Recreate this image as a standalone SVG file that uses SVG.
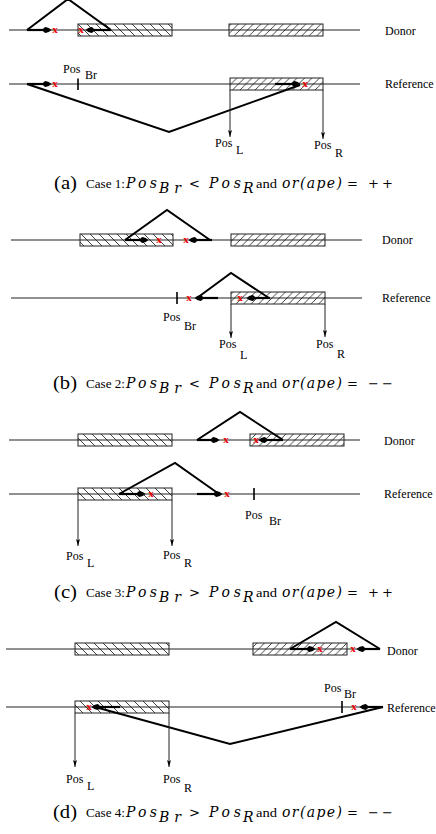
<svg xmlns="http://www.w3.org/2000/svg" width="436" height="834" viewBox="0 0 436 834">
<style>
.bg{fill:#fff}
.seq{stroke:#222;stroke-width:1.1;fill:none}
.boxB{fill:url(#hB);stroke:#222;stroke-width:1}
.boxF{fill:url(#hF);stroke:#222;stroke-width:1}
.read{stroke:#000;stroke-width:2.2;fill:none;marker-end:url(#dot)}
.arc{stroke:#000;stroke-width:2;fill:none;stroke-linejoin:miter}
.tick{stroke:#000;stroke-width:1.6}
.pos{stroke:#222;stroke-width:1;fill:none;marker-end:url(#arr)}
text{font-family:"Liberation Serif","Times New Roman","DejaVu Serif",serif}
.lab{font-size:12px;fill:#000}
.rx{font-size:11px;font-weight:bold;fill:#e00;text-anchor:middle}
.cap{fill:#000}
.big{font-size:18px}
.sm{font-size:12px}
.mi{font-family:"DejaVu Serif","Liberation Serif",serif;font-size:14px;font-style:italic}
.op{font-family:"DejaVu Serif","Liberation Serif",serif;font-size:13px}
</style>
<defs>
<pattern id="hB" patternUnits="userSpaceOnUse" width="9" height="9">
<path d="M0,0 L9,9 M-3,6 L3,12 M6,-3 L12,3" stroke="#111" stroke-width="0.8"/>
</pattern>
<pattern id="hF" patternUnits="userSpaceOnUse" width="7.5" height="7.5">
<path d="M0,7.5 L7.5,0 M-3,3 L3,-3 M4.5,10.5 L10.5,4.5" stroke="#111" stroke-width="0.8"/>
</pattern>
<marker id="dot" markerUnits="userSpaceOnUse" orient="auto" markerWidth="12" markerHeight="10" viewBox="-6 -5 12 10" refX="0" refY="0" overflow="visible">
<path d="M-2.5,-2.9 Q1,-2.6 3.5,0 Q1,2.6 -2.5,2.9 Q-5,2.4 -5,0 Q-5,-2.4 -2.5,-2.9Z" fill="#000"/>
</marker>
<marker id="arr" markerUnits="userSpaceOnUse" orient="auto" markerWidth="10" markerHeight="8" viewBox="-8 -4 10 8" refX="0" refY="0" overflow="visible">
<path d="M-7,-2 L0,0 L-7,2 L-5.5,0Z" fill="#000"/>
</marker>
</defs>
<rect class="bg" x="0" y="0" width="436" height="834"/>

<!-- ============ Panel (a) ============ -->
<g id="a-donor">
<line class="seq" x1="9" y1="30" x2="360" y2="30"/>
<rect class="boxB" x="78" y="24" width="94" height="12"/>
<rect class="boxF" x="229" y="24" width="94" height="12"/>
<text class="lab" x="385" y="35">Donor</text>
</g>
<g id="a-reference">
<line class="seq" x1="9" y1="84" x2="360" y2="84"/>
<rect class="boxF" x="230" y="78" width="93" height="12"/>
<line class="tick" x1="78" y1="78.5" x2="78" y2="90"/>
<text class="lab" x="63" y="73">Pos</text><text class="lab" x="85" y="79">Br</text>
<text class="lab" x="385" y="88">Reference</text>
</g>
<g id="a-connectors">
<polyline class="arc" points="27,30 68,-1 111,30"/>
<line class="read" x1="27" y1="30" x2="48" y2="30"/>
<line class="read" x1="111" y1="30" x2="89" y2="30"/>
<text class="rx" x="55" y="33">x</text>
<text class="rx" x="81" y="33">x</text>
<polyline class="arc" points="27,84 169,132 300,85"/>
<line class="read" x1="27" y1="84" x2="48" y2="84"/>
<text class="rx" x="55" y="87">x</text>
<line class="read" x1="275" y1="84" x2="297" y2="84"/>
<text class="rx" x="305" y="87">x</text>
<line class="pos" x1="230" y1="90" x2="230" y2="137"/>
<line class="pos" x1="323" y1="90" x2="323" y2="139"/>
</g>
<g id="a-poslabels">
<text class="lab" x="215" y="147">Pos</text><text class="lab" x="236" y="154">L</text>
<text class="lab" x="314" y="149">Pos</text><text class="lab" x="335" y="157">R</text>
</g>
<g id="a-caption" class="cap">
<text class="big" x="54" y="189" textLength="23" lengthAdjust="spacingAndGlyphs">(a)</text>
<text class="sm" x="86" y="188" textLength="39" lengthAdjust="spacingAndGlyphs">Case 1:</text>
<text class="mi" x="126" y="188" textLength="31" lengthAdjust="spacing">Pos</text>
<text class="mi" x="159" y="193" textLength="22" lengthAdjust="spacing">Br</text>
<text class="op" x="189" y="188">&lt;</text>
<text class="mi" x="209" y="188" textLength="32" lengthAdjust="spacing">Pos</text>
<text class="mi" x="243" y="193">R</text>
<text class="sm" x="256" y="188" textLength="21" lengthAdjust="spacingAndGlyphs">and</text>
<text class="mi" x="282" y="188" textLength="60" lengthAdjust="spacing">or(ape)</text>
<text class="op" x="347" y="188">=</text>
<text class="op" x="368" y="188" textLength="25" lengthAdjust="spacing">++</text>
</g>

<!-- ============ Panel (b) ============ -->
<g id="b-donor">
<line class="seq" x1="11" y1="240" x2="362" y2="240"/>
<rect class="boxB" x="80" y="234" width="93" height="12"/>
<rect class="boxF" x="231" y="234" width="94" height="12"/>
<text class="lab" x="382" y="244">Donor</text>
</g>
<g id="b-reference">
<line class="seq" x1="11" y1="298" x2="362" y2="298"/>
<rect class="boxF" x="231" y="292" width="94" height="12"/>
<line class="tick" x1="177" y1="292" x2="177" y2="304"/>
<text class="lab" x="163" y="321">Pos</text><text class="lab" x="184" y="330">Br</text>
<text class="lab" x="382" y="302">Reference</text>
</g>
<g id="b-connectors">
<polyline class="arc" points="125,240 167,210 210,240"/>
<line class="read" x1="125" y1="240" x2="145" y2="240"/>
<text class="rx" x="159" y="243">x</text>
<line class="read" x1="212" y1="240" x2="192" y2="240"/>
<text class="rx" x="186" y="243">x</text>
<polyline class="arc" points="197,298 231,273 269,298"/>
<line class="read" x1="218" y1="298" x2="198" y2="298"/>
<text class="rx" x="189" y="301">x</text>
<line class="read" x1="270" y1="298" x2="250" y2="298"/>
<text class="rx" x="240" y="301">x</text>
<line class="pos" x1="231" y1="304" x2="231" y2="338"/>
<line class="pos" x1="325" y1="304" x2="325" y2="337"/>
</g>
<g id="b-poslabels">
<text class="lab" x="219" y="348">Pos</text><text class="lab" x="240" y="359">L</text>
<text class="lab" x="316" y="348">Pos</text><text class="lab" x="337" y="358">R</text>
</g>
<g id="b-caption" class="cap">
<text class="big" x="53" y="389" textLength="24" lengthAdjust="spacingAndGlyphs">(b)</text>
<text class="sm" x="86" y="388" textLength="39" lengthAdjust="spacingAndGlyphs">Case 2:</text>
<text class="mi" x="126" y="388" textLength="31" lengthAdjust="spacing">Pos</text>
<text class="mi" x="159" y="393" textLength="22" lengthAdjust="spacing">Br</text>
<text class="op" x="189" y="388">&lt;</text>
<text class="mi" x="209" y="388" textLength="32" lengthAdjust="spacing">Pos</text>
<text class="mi" x="243" y="393">R</text>
<text class="sm" x="256" y="388" textLength="21" lengthAdjust="spacingAndGlyphs">and</text>
<text class="mi" x="282" y="388" textLength="60" lengthAdjust="spacing">or(ape)</text>
<text class="op" x="347" y="388">=</text>
<text class="op" x="368" y="388" textLength="25" lengthAdjust="spacing">−−</text>
</g>

<!-- ============ Panel (c) ============ -->
<g id="c-donor">
<line class="seq" x1="9" y1="440" x2="360" y2="440"/>
<rect class="boxB" x="78" y="434" width="94" height="12"/>
<rect class="boxF" x="250" y="434" width="94" height="12"/>
<text class="lab" x="384" y="445">Donor</text>
</g>
<g id="c-reference">
<line class="seq" x1="9" y1="494" x2="360" y2="494"/>
<rect class="boxB" x="78" y="488" width="94" height="12"/>
<line class="tick" x1="254" y1="488" x2="254" y2="500"/>
<text class="lab" x="245" y="519">Pos</text><text class="lab" x="269" y="525">Br</text>
<text class="lab" x="384" y="498">Reference</text>
</g>
<g id="c-connectors">
<polyline class="arc" points="197,440 240,412 283,440"/>
<line class="read" x1="197" y1="440" x2="216" y2="440"/>
<text class="rx" x="226" y="443">x</text>
<line class="read" x1="283" y1="440" x2="262" y2="440"/>
<text class="rx" x="256" y="443">x</text>
<polyline class="arc" points="119,494 175,463 219,494"/>
<line class="read" x1="119" y1="494" x2="142" y2="494"/>
<text class="rx" x="151" y="497">x</text>
<line class="read" x1="197" y1="494" x2="219" y2="494"/>
<text class="rx" x="227" y="497">x</text>
<line class="pos" x1="78" y1="500" x2="78" y2="546"/>
<line class="pos" x1="172" y1="500" x2="172" y2="546"/>
</g>
<g id="c-poslabels">
<text class="lab" x="66" y="560">Pos</text><text class="lab" x="87" y="567">L</text>
<text class="lab" x="163" y="559">Pos</text><text class="lab" x="184" y="567">R</text>
</g>
<g id="c-caption" class="cap">
<text class="big" x="54" y="598" textLength="23" lengthAdjust="spacingAndGlyphs">(c)</text>
<text class="sm" x="86" y="597" textLength="39" lengthAdjust="spacingAndGlyphs">Case 3:</text>
<text class="mi" x="126" y="597" textLength="31" lengthAdjust="spacing">Pos</text>
<text class="mi" x="159" y="602" textLength="22" lengthAdjust="spacing">Br</text>
<text class="op" x="189" y="597">&gt;</text>
<text class="mi" x="209" y="597" textLength="32" lengthAdjust="spacing">Pos</text>
<text class="mi" x="243" y="602">R</text>
<text class="sm" x="256" y="597" textLength="21" lengthAdjust="spacingAndGlyphs">and</text>
<text class="mi" x="282" y="597" textLength="60" lengthAdjust="spacing">or(ape)</text>
<text class="op" x="347" y="597">=</text>
<text class="op" x="368" y="597" textLength="25" lengthAdjust="spacing">++</text>
</g>

<!-- ============ Panel (d) ============ -->
<g id="d-donor">
<line class="seq" x1="6" y1="649" x2="380" y2="649"/>
<rect class="boxB" x="75" y="643" width="94" height="12"/>
<rect class="boxF" x="253" y="643" width="94" height="12"/>
<text class="lab" x="387" y="655">Donor</text>
</g>
<g id="d-reference">
<line class="seq" x1="6" y1="707" x2="383" y2="707"/>
<rect class="boxB" x="75" y="701" width="94" height="12"/>
<line class="tick" x1="342" y1="701" x2="342" y2="713"/>
<text class="lab" x="324" y="692">Pos</text><text class="lab" x="344" y="698">Br</text>
<text class="lab" x="387" y="712">Reference</text>
</g>
<g id="d-connectors">
<polyline class="arc" points="290,649 336,622 380,649"/>
<line class="read" x1="290" y1="649" x2="312" y2="649"/>
<text class="rx" x="320" y="652">x</text>
<line class="read" x1="380" y1="649" x2="360" y2="649"/>
<text class="rx" x="353" y="652">x</text>
<polyline class="arc" points="95,707 230,744 383,707"/>
<line class="read" x1="120" y1="707" x2="95" y2="707"/>
<text class="rx" x="89" y="710">x</text>
<line class="read" x1="383" y1="707" x2="363" y2="707"/>
<text class="rx" x="354" y="710">x</text>
<line class="pos" x1="75" y1="713" x2="75" y2="767"/>
<line class="pos" x1="169" y1="713" x2="169" y2="767"/>
</g>
<g id="d-poslabels">
<text class="lab" x="66" y="783">Pos</text><text class="lab" x="87" y="790">L</text>
<text class="lab" x="163" y="783">Pos</text><text class="lab" x="184" y="792">R</text>
</g>
<g id="d-caption" class="cap">
<text class="big" x="53" y="818" textLength="24" lengthAdjust="spacingAndGlyphs">(d)</text>
<text class="sm" x="86" y="817" textLength="39" lengthAdjust="spacingAndGlyphs">Case 4:</text>
<text class="mi" x="126" y="817" textLength="31" lengthAdjust="spacing">Pos</text>
<text class="mi" x="159" y="822" textLength="22" lengthAdjust="spacing">Br</text>
<text class="op" x="189" y="817">&gt;</text>
<text class="mi" x="209" y="817" textLength="32" lengthAdjust="spacing">Pos</text>
<text class="mi" x="243" y="822">R</text>
<text class="sm" x="256" y="817" textLength="21" lengthAdjust="spacingAndGlyphs">and</text>
<text class="mi" x="282" y="817" textLength="60" lengthAdjust="spacing">or(ape)</text>
<text class="op" x="347" y="817">=</text>
<text class="op" x="368" y="817" textLength="25" lengthAdjust="spacing">−−</text>
</g>
</svg>
